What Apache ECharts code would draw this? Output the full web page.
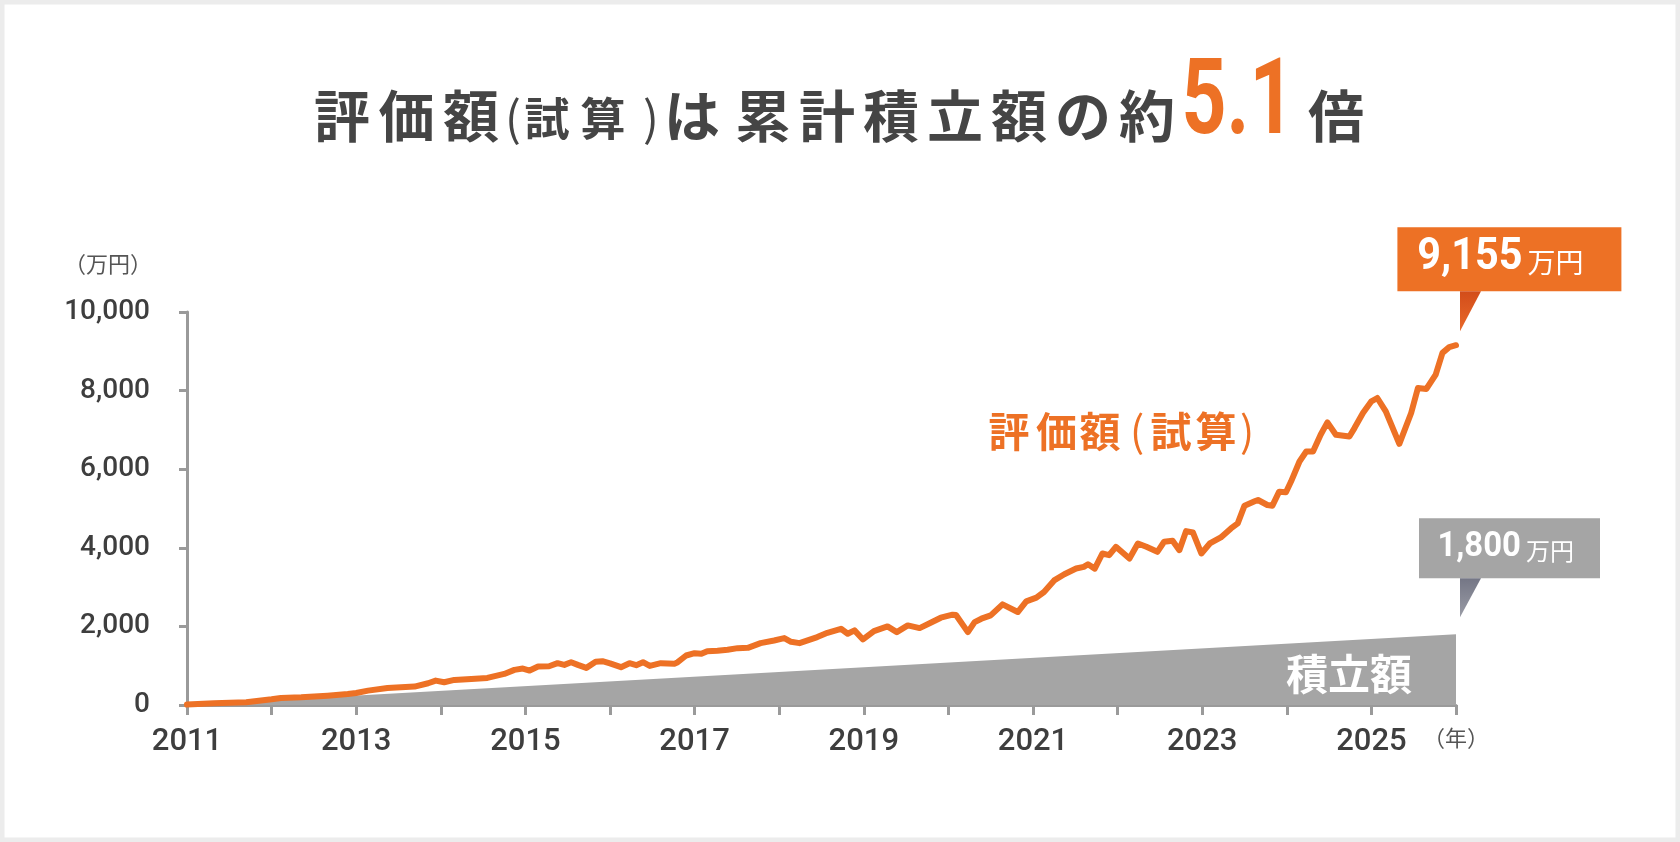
<!DOCTYPE html>
<html>
<head>
<meta charset="utf-8">
<title>評価額（試算）は累計積立額の約5.1倍</title>
<script src="https://cdn.jsdelivr.net/npm/echarts@6/dist/echarts.min.js"></script>
<style>
  html, body { margin: 0; padding: 0; background: #fff; }
  #main { width: 1680px; height: 842px; }
</style>
</head>
<body>
<div id="main"></div>
<script>
// 評価額（試算）: 年（小数）と金額（万円）
const evalYears = [
  2011.00, 2011.32, 2011.70, 2012.00, 2012.11, 2012.35, 2012.66, 2012.90,
  2013.00, 2013.14, 2013.37, 2013.53, 2013.69, 2013.85, 2013.94, 2014.04,
  2014.16, 2014.36, 2014.55, 2014.75, 2014.87, 2014.97, 2015.05, 2015.15,
  2015.28, 2015.38, 2015.46, 2015.54, 2015.62, 2015.72, 2015.83, 2015.91,
  2016.00, 2016.13, 2016.23, 2016.31, 2016.39, 2016.47, 2016.60, 2016.76,
  2016.80, 2016.90, 2017.00, 2017.08, 2017.15, 2017.27, 2017.39, 2017.51,
  2017.63, 2017.78, 2017.94, 2018.06, 2018.14, 2018.24, 2018.45, 2018.57,
  2018.73, 2018.81, 2018.89, 2018.99, 2019.12, 2019.28, 2019.39, 2019.52,
  2019.66, 2019.79, 2019.91, 2020.05, 2020.09, 2020.23, 2020.31, 2020.39,
  2020.50, 2020.64, 2020.82, 2020.92, 2021.04, 2021.13, 2021.25, 2021.37,
  2021.51, 2021.60, 2021.65, 2021.73, 2021.82, 2021.90, 2021.98, 2022.14,
  2022.24, 2022.34, 2022.47, 2022.55, 2022.65, 2022.73, 2022.81, 2022.89,
  2022.99, 2023.09, 2023.22, 2023.34, 2023.42, 2023.50, 2023.62, 2023.66,
  2023.77, 2023.83, 2023.91, 2023.99, 2024.05, 2024.15, 2024.23, 2024.31,
  2024.40, 2024.48, 2024.58, 2024.74, 2024.80, 2024.90, 2025.00, 2025.07,
  2025.17, 2025.33, 2025.47, 2025.55, 2025.65, 2025.76, 2025.84, 2025.92,
  2026.00
];
const evalValues = [
  10, 43, 68, 145, 179, 196, 238, 281,
  306, 366, 434, 451, 468, 553, 621, 579,
  638, 664, 689, 791, 894, 928, 877, 979,
  987, 1064, 1021, 1089, 1021, 945, 1098, 1115,
  1060, 962, 1064, 1013, 1089, 995, 1064, 1047,
  1089, 1260, 1319, 1302, 1370, 1380, 1404, 1447,
  1455, 1574, 1642, 1702, 1608, 1574, 1728, 1838,
  1940, 1813, 1898, 1668, 1881, 2000, 1855, 2025,
  1957, 2093, 2221, 2298, 2290, 1855, 2110, 2196,
  2281, 2561, 2366, 2638, 2732, 2876, 3170, 3327,
  3472, 3515, 3580, 3470, 3855, 3812, 4025, 3727,
  4110, 4025, 3898, 4153, 4178, 3940, 4425, 4391,
  3855, 4110, 4263, 4493, 4621, 5072, 5183, 5216,
  5089, 5072, 5429, 5412, 5685, 6195, 6450, 6450,
  6876, 7191, 6876, 6833, 7046, 7429, 7727, 7812,
  7472, 6646, 7429, 8067, 8042, 8408, 8961, 9106,
  9155
];

// 累計積立額（万円）
const savedYears = [2011, 2026];
const savedValues = [0, 1800];

// 軸の目盛り・ラベル
const xLabelYears = [2011, 2013, 2015, 2017, 2019, 2021, 2023, 2025];
const xUnitYear = 2026;
const xUnitLabel = '（年）';
const yUnitLabel = '（万円）';
const ratioText = '5.1';

const ORANGE = '#ED7125';
const GRAY_AREA = '#A5A5A5';
const AXIS = '#9A9A9A';
const TEXT = '#454545';
const JP = '"Noto Sans CJK JP", sans-serif';

const chart = echarts.init(document.getElementById('main'));

chart.setOption({
  animation: false,
  backgroundColor: '#fff',
  grid: { left: 187, right: 224, top: 312, bottom: 137, outerBoundsMode: 'none' },
  xAxis: {
    type: 'value',
    min: 2011,
    max: 2026,
    interval: 1,
    axisLine: { lineStyle: { color: AXIS, width: 3 } },
    axisTick: { length: 10, lineStyle: { color: AXIS, width: 3 } },
    splitLine: { show: false },
    axisLabel: {
      margin: 22,
      color: '#3E3E3E',
      fontFamily: 'Roboto',
      fontWeight: 500,
      fontSize: 31,
      formatter: function (v) {
        if (v === xUnitYear) return '{u|' + xUnitLabel + '}';
        return xLabelYears.indexOf(v) >= 0 ? String(v) : '';
      },
      rich: { u: { fontSize: 22, fontFamily: JP, fontWeight: 'normal', color: '#555' } }
    }
  },
  yAxis: {
    type: 'value',
    min: 0,
    max: 10000,
    interval: 2000,
    axisLine: { show: true, lineStyle: { color: AXIS, width: 3 } },
    axisTick: { show: true, length: 8, lineStyle: { color: AXIS, width: 3 } },
    splitLine: { show: false },
    axisLabel: {
      margin: 37,
      color: '#3E3E3E',
      fontFamily: 'Roboto',
      fontWeight: 500,
      fontSize: 28,
      formatter: v => v.toLocaleString('en-US')
    }
  },
  series: [
    {
      name: '積立額',
      type: 'line',
      data: savedYears.map((y, i) => [y, savedValues[i]]),
      symbol: 'none',
      lineStyle: { width: 0 },
      areaStyle: { color: GRAY_AREA, opacity: 1 },
      z: 1
    },
    {
      name: '評価額（試算）',
      type: 'line',
      data: evalYears.map((y, i) => [y, evalValues[i]]),
      symbol: 'none',
      lineStyle: { color: ORANGE, width: 6, join: 'round', cap: 'round' },
      z: 3
    }
  ]
});

// テキスト要素
function txt(str, x, y, size, color, weight, family, align, scaleX) {
  return {
    type: 'text', x: x, y: y, scaleX: scaleX || 1, silent: true, z: 10,
    style: {
      text: str, x: 0, y: 0,
      align: align || 'center', textAlign: align || 'center',
      verticalAlign: 'middle', textVerticalAlign: 'middle',
      fill: color,
      font: (weight || 'bold') + ' ' + size + 'px ' + (family || JP)
    }
  };
}

const g = [];

// 枠
g.push({ type: 'rect', silent: true, z: 0, shape: { x: 0, y: 0, width: 1680, height: 842 },
  style: { fill: 'none', stroke: '#ECECEC', lineWidth: 9 } });

// タイトル
[['評', 342], ['価', 406.5], ['額', 471]].forEach(c => g.push(txt(c[0], c[1], 116, 56, TEXT)));
g.push(txt('(', 513, 118, 47, TEXT, 'normal'));
g.push(txt('試', 547, 119, 45, TEXT));
g.push(txt('算', 603, 119, 45, TEXT));
g.push(txt(')', 651, 118, 47, TEXT, 'normal'));
[['は', 692], ['累', 763], ['計', 827], ['積', 891], ['立', 955], ['額', 1019], ['の', 1083], ['約', 1147]]
  .forEach(c => g.push(txt(c[0], c[1], 116, 56, TEXT)));
g.push(txt(ratioText, 1238, 106, 106, ORANGE, 'bold', 'Roboto', 'center', 0.74));
g.push(txt('倍', 1336, 116, 56, TEXT));

// 単位
g.push(txt(yUnitLabel, 108, 264, 22, '#555', 'normal'));

// 系列ラベル
[['評', 1009], ['価', 1056.5], ['額', 1100], ['試', 1171], ['算', 1216]]
  .forEach(c => g.push(txt(c[0], c[1], 431, 41, ORANGE)));
g.push(txt('(', 1137, 431, 42, ORANGE, 'normal'));
g.push(txt(')', 1247, 431, 42, ORANGE, 'normal'));
g.push(txt('積立額', 1349, 674, 42, '#FFFFFF'));

// 吹き出し（最終値）
const endEval = chart.convertToPixel({ gridIndex: 0 }, [evalYears[evalYears.length - 1], evalValues[evalValues.length - 1]]);
const endSaved = chart.convertToPixel({ gridIndex: 0 }, [savedYears[savedYears.length - 1], savedValues[savedValues.length - 1]]);

function callout(tipX, tipY, boxLeft, boxTop, w, h, fill, grad, numStr, numSize, numRight, unitSize) {
  const bottom = boxTop + h;
  g.push({ type: 'rect', silent: true, z: 8, shape: { x: boxLeft, y: boxTop, width: w, height: h }, style: { fill: fill } });
  g.push({ type: 'polygon', silent: true, z: 8,
    shape: { points: [[tipX, bottom], [tipX + 21, bottom], [tipX, tipY]] },
    style: { fill: new echarts.graphic.LinearGradient(0, 0, 0, 1, [
      { offset: 0, color: grad[0] }, { offset: 1, color: grad[1] }]) } });
  g.push(txt(numStr, boxLeft + numRight, boxTop + h / 2 - 1, numSize, '#FFFFFF', 'bold', 'Roboto', 'right', 0.94));
  g.push(txt('万円', boxLeft + numRight + 5, boxTop + h / 2 + 3, unitSize, '#FFFFFF', 'normal', JP, 'left'));
}

const tipO = [endEval[0] + 4, endEval[1] - 14];
callout(tipO[0], tipO[1], tipO[0] - 62.6, tipO[1] - 104, 224, 64, ORANGE, ['#D24D1A', '#E9692A'],
  evalValues[evalValues.length - 1].toLocaleString('en-US'), 44, 125, 28);

const tipG = [endSaved[0] + 4, endSaved[1] - 17];
callout(tipG[0], tipG[1], tipG[0] - 41, tipG[1] - 99, 181, 60, GRAY_AREA, ['#747685', '#9A9CA6'],
  savedValues[savedValues.length - 1].toLocaleString('en-US'), 35, 102, 24);

chart.setOption({ graphic: { elements: g } });
</script>
</body>
</html>
